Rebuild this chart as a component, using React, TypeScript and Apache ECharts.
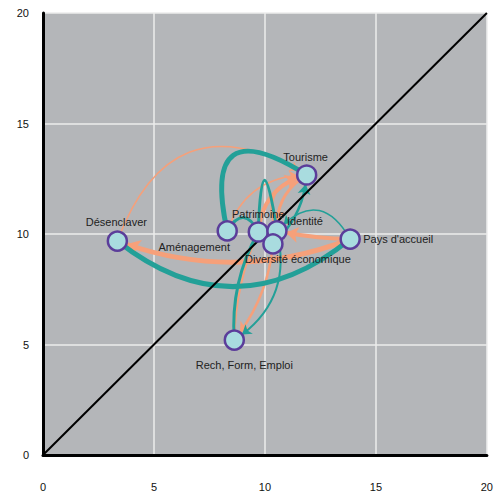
import React, { useEffect, useRef } from "react";
import * as echarts from "echarts";

// Nodes
const nodeNames = [
  "Désenclaver",
  "Aménagement",
  "Patrimoine",
  "Identité",
  "Diversité économique",
  "Tourisme",
  "Pays d'accueil",
  "Rech, Form, Emploi",
];
const nodeX = [3.35, 8.3, 9.7, 10.54, 10.36, 11.88, 13.84, 8.62];
const nodeY = [9.68, 10.14, 10.09, 10.14, 9.55, 12.67, 9.77, 5.2];

// Edges (index into nodes)
const edgeFrom = [0, 6, 1, 2, 3, 5, 6, 4, 7, 0, 1, 6, 3, 7, 1, 2, 4];
const edgeTo = [5, 0, 5, 5, 5, 3, 3, 7, 2, 6, 5, 3, 7, 2, 2, 3, 5];
const edgeWidth = [1.5, 5, 1.5, 4, 2.5, 3, 4, 2.5, 2, 5, 5, 1.5, 2, 3, 3, 3, 2.5];
const edgeKind = ["o", "o", "o", "o", "o", "o", "o", "o", "o", "t", "t", "t", "t", "t", "t", "t", "t"];
const edgeBend = [0.6, 0.19, 0.35, 0.35, 0.6, -0.3, 0.05, 0.15, 0.1, -0.4, 1.2, -0.68, 0.35, 0.15, 0.9, 5.5, -0.2];
const edgeArrow = [1, 1, 1, 1, 0, 1, 1, 1, 0, 0, 0, 1, 1, 0, 0, 0, 1];

// Label offsets relative to node centre
const labelDX = [-1, -33, 0, 28, 25, -1, 48, 10];
const labelDY = [-19, 16, -18, -10, 15, -18, 0, 25];

const axisTicks = [0, 5, 10, 15, 20];

const ORANGE = "#f6a07a";
const TEAL = "#23a098";
const FONT = "'Liberation Sans', Arial, sans-serif";
const NODE_SIZE = 19;

export default function App() {
  const ref = useRef<HTMLDivElement>(null);
  useEffect(() => {
    if (!ref.current) return;
    const chart = echarts.init(ref.current, undefined, { renderer: "svg" });
    const links = edgeFrom.map((f, i) => {
      const w = edgeWidth[i];
      return {
        source: nodeNames[f],
        target: nodeNames[edgeTo[i]],
        symbol: ["none", edgeArrow[i] ? "arrow" : "none"],
        symbolSize: [0, 6 + w * 1.5],
        lineStyle: {
          color: edgeKind[i] === "o" ? ORANGE : TEAL,
          width: w,
          curveness: edgeBend[i],
          opacity: 1,
        },
      };
    });
    const graphNodes = nodeNames.map((n, i) => ({
      name: n,
      value: [nodeX[i], nodeY[i]],
    }));
    const nodeData = nodeNames.map((n, i) => ({
      name: n,
      value: [nodeX[i], nodeY[i]],
      label: {
        show: true,
        position: "inside",
        offset: [labelDX[i], labelDY[i]],
        formatter: n,
        color: "#222",
        fontSize: 11,
        fontFamily: FONT,
      },
    }));
    chart.setOption({
      animation: false,
      grid: {
        left: 43,
        right: 5,
        top: 13,
        bottom: 40,
        show: true,
        backgroundColor: "#b4b6b9",
        borderWidth: 0,
      },
      xAxis: {
        type: "value",
        min: axisTicks[0],
        max: axisTicks[axisTicks.length - 1],
        interval: 5,
        axisLine: { show: true, onZero: false, lineStyle: { color: "#000", width: 3 } },
        axisTick: { show: false },
        axisLabel: { margin: 26, color: "#111", fontSize: 11, fontFamily: FONT },
        splitLine: { show: true, lineStyle: { color: "#ececec", width: 1.5 } },
      },
      yAxis: {
        type: "value",
        min: axisTicks[0],
        max: axisTicks[axisTicks.length - 1],
        interval: 5,
        axisLine: { show: true, onZero: false, lineStyle: { color: "#000", width: 3 } },
        axisTick: { show: false },
        axisLabel: { margin: 14, color: "#111", fontSize: 11, fontFamily: FONT },
        splitLine: { show: true, lineStyle: { color: "#ececec", width: 1.5 } },
      },
      series: [
        {
          type: "graph",
          coordinateSystem: "cartesian2d",
          layout: "none",
          z: 2,
          silent: true,
          symbol: "circle",
          symbolSize: NODE_SIZE,
          itemStyle: { opacity: 0 },
          label: { show: false },
          lineStyle: { opacity: 1 },
          data: graphNodes,
          links: links,
        },
        {
          type: "line",
          z: 3,
          data: [
            [axisTicks[0], axisTicks[0]],
            [axisTicks[axisTicks.length - 1], axisTicks[axisTicks.length - 1]],
          ],
          symbol: "none",
          lineStyle: { color: "#000", width: 2 },
        },
        {
          type: "scatter",
          z: 4,
          symbol: "circle",
          symbolSize: NODE_SIZE,
          itemStyle: { color: "#a9dcdf", borderColor: "#5b3d9a", borderWidth: 2.5, opacity: 1 },
          data: nodeData,
        },
      ],
    });
    return () => chart.dispose();
  }, []);
  return (
    <div
      ref={ref}
      style={{ position: "fixed", left: 0, top: 0, width: 496, height: 495, background: "#fff" }}
    />
  );
}
